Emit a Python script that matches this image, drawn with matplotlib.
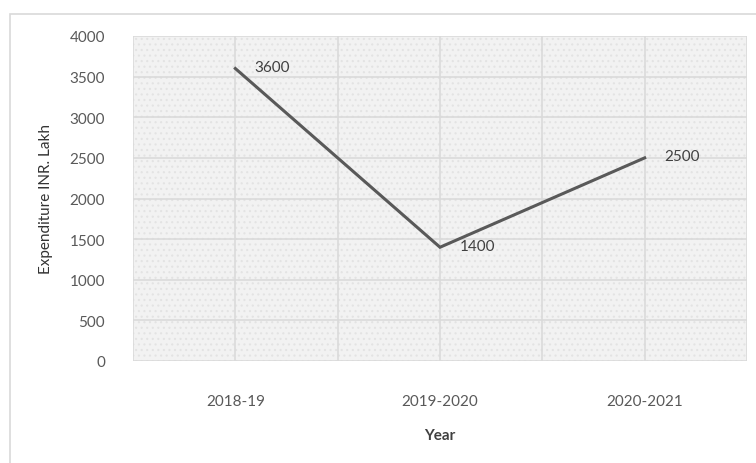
import matplotlib
matplotlib.use('Agg')
import matplotlib.pyplot as plt
import matplotlib.patches as mpatches
import numpy as np

# data
years = ['2018-19', '2019-2020', '2020-2021']
expenditure = [3600, 1400, 2500]
y_ticks = [0, 500, 1000, 1500, 2000, 2500, 3000, 3500, 4000]

plt.rcParams['font.family'] = ['Lato', 'DejaVu Sans']
plt.rcParams['hatch.linewidth'] = 0.8

fig = plt.figure(figsize=(7.56, 4.64), dpi=100, facecolor='white')

# outer chart border (right/bottom edges fall off the picture)
border = mpatches.Rectangle((10 / 756, -0.05), 1.1, (464 - 15) / 464 + 0.05,
                            transform=fig.transFigure, fill=False,
                            edgecolor='#d9d9d9', lw=1.2, zorder=0)
fig.patches.append(border)

ax = fig.add_axes([133 / 756, 1 - 362 / 464, (747 - 133) / 756, (362 - 37) / 464])
ax.set_facecolor('#f2f2f2')
ax.add_patch(mpatches.Rectangle((0, 0), 1, 1, transform=ax.transAxes,
                                facecolor='none', hatch='...', edgecolor='#e3e3e3',
                                lw=0, zorder=0))

x = np.arange(len(years))
ax.plot(x, expenditure, color='#595959', lw=2.2, zorder=3, solid_joinstyle='miter')
for xi, v in zip(x, expenditure):
    ax.annotate(str(v), (xi, v), xytext=(14, 1), textcoords='offset points',
                ha='left', va='center', fontsize=11, color='#404040', zorder=4)

ax.set_xlim(-0.5, len(years) - 0.5)
ax.set_ylim(0, 4000)
ax.set_yticks(y_ticks)
ax.set_xticks(x)
ax.set_xticklabels(years)
ax.set_xticks(np.arange(-0.5, len(years), 1.0), minor=True)
ax.tick_params(axis='both', length=0, labelsize=11, labelcolor='#595959')
ax.tick_params(axis='x', which='both', length=0, pad=24)
ax.tick_params(axis='y', pad=20)

ax.grid(axis='y', color='#dadada', lw=1.2, zorder=1)
ax.grid(axis='x', which='both', color='#dadada', lw=1.2, zorder=1)
ax.set_axisbelow(True)
for s in ax.spines.values():
    s.set_visible(False)

ax.set_ylabel('Expenditure INR. Lakh', fontsize=11, color='#333333', labelpad=12)
ax.set_xlabel('Year', fontsize=11, color='#404040', fontweight='bold', labelpad=14)

plt.savefig('out.png', dpi=100, facecolor='white')
plt.close()
